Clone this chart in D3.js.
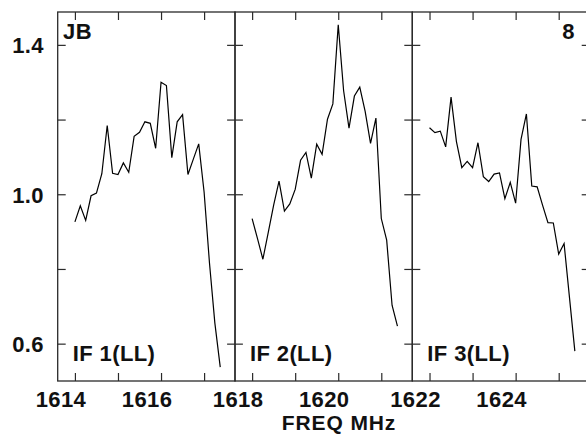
<!DOCTYPE html>
<html><head><meta charset="utf-8">
<script src="https://cdn.jsdelivr.net/npm/d3@7"></script>
<style>
body{margin:0;background:#fff}
text{font-family:"Liberation Sans",Arial,Helvetica,sans-serif;font-weight:bold;fill:#111;letter-spacing:0.4px}
</style>
</head><body><svg id="c" width="586" height="434"></svg>
<script>
// ---- data ----
const panelStarts = [1614, 1618, 1622];
const panelLabels = ["IF 1(LL)", "IF 2(LL)", "IF 3(LL)"];
const channelStep = 0.125;
const if1 = [0.926, 0.969, 0.930, 0.996, 1.003, 1.055, 1.184, 1.056, 1.053, 1.084,
             1.059, 1.155, 1.166, 1.194, 1.190, 1.123, 1.300, 1.291, 1.098, 1.194,
             1.213, 1.053, 1.094, 1.135, 1.006, 0.816, 0.655, 0.537];
const if2 = [0.935, 0.881, 0.826, 0.898, 0.971, 1.035, 0.955, 0.974, 1.013, 1.091,
             1.112, 1.043, 1.134, 1.107, 1.201, 1.242, 1.454, 1.277, 1.177, 1.263,
             1.287, 1.222, 1.136, 1.204, 0.935, 0.877, 0.703, 0.647];
const if3 = [1.178, 1.165, 1.169, 1.127, 1.260, 1.141, 1.071, 1.088, 1.071, 1.138,
             1.047, 1.034, 1.054, 1.057, 0.988, 1.032, 0.976, 1.147, 1.215, 1.022,
             1.020, 0.971, 0.924, 0.923, 0.840, 0.868, 0.724, 0.580];
const yTickValues = [0.6, 0.8, 1.0, 1.2, 1.4];
const yTickLabels = [0.6, 1.0, 1.4];
const xAxisTitle = "FREQ MHz";
const sourceLabel = "JB";
const plotNumber = "8";

const series = [if1, if2, if3];

// ---- layout ----
const svg = d3.select("#c");
const plotTop = 12, plotBottom = 381;
const panelW = 177.4;
const panelLeft = [57.7, 234.9, 412.3];
const y = d3.scaleLinear().domain([0.5, 1.488]).range([plotBottom, plotTop]);
const frameColor = "#2a2a2a";
const fontSize = 22;

panelStarts.forEach((x0, k) => {
  const L = panelLeft[k];
  const x = d3.scaleLinear().domain([x0 - 0.4, x0 + 3.72]).range([L, L + panelW]);
  const g = svg.append("g");
  const xt = d3.range(4).map(i => x0 + i);

  const styleAxis = sel => {
    sel.select(".domain").remove();
    sel.selectAll("line").attr("stroke", frameColor).attr("stroke-width", 1.2);
    sel.selectAll("text").remove();
  };
  g.append("g").attr("transform", `translate(0,${plotBottom})`)
    .call(d3.axisBottom(x).tickValues(xt).tickSize(-8).tickFormat("")).call(styleAxis);
  g.append("g").attr("transform", `translate(0,${plotTop})`)
    .call(d3.axisTop(x).tickValues(xt).tickSize(-8).tickFormat("")).call(styleAxis);
  g.append("g").attr("transform", `translate(${L},0)`)
    .call(d3.axisLeft(y).tickValues(yTickValues).tickSize(-8).tickFormat("")).call(styleAxis);
  g.append("g").attr("transform", `translate(${L + panelW},0)`)
    .call(d3.axisRight(y).tickValues(yTickValues).tickSize(-8).tickFormat("")).call(styleAxis);

  g.append("rect").attr("x", L).attr("y", plotTop).attr("width", panelW).attr("height", plotBottom - plotTop)
    .attr("fill", "none").attr("stroke", frameColor).attr("stroke-width", 1.3);

  const pts = series[k].map((v, i) => [x0 + i * channelStep, v]);
  g.append("path").datum(pts)
    .attr("d", d3.line().x(d => x(d[0])).y(d => y(d[1])))
    .attr("fill", "none").attr("stroke", "#000").attr("stroke-width", 1.2)
    .attr("stroke-linejoin", "miter");

  // x tick labels (even MHz), shifted left as in reference
  xt.filter(v => v % 2 === 0).forEach(v => {
    g.append("text").attr("x", x(v) - 14).attr("y", 406.5)
      .attr("text-anchor", "middle").attr("font-size", fontSize).text(v);
  });

  g.append("text").attr("x", L + 15).attr("y", 360.5)
    .attr("font-size", fontSize).text(panelLabels[k]);
});

yTickLabels.forEach(v => {
  svg.append("text").attr("x", 44).attr("y", y(v) + 8.5)
    .attr("text-anchor", "end").attr("font-size", fontSize).text(d3.format(".1f")(v));
});

svg.append("text").attr("x", 63).attr("y", 39).attr("font-size", fontSize).text(sourceLabel);
svg.append("text").attr("x", 575).attr("y", 39).attr("text-anchor", "end").attr("font-size", fontSize).text(plotNumber);
svg.append("text").attr("x", 339).attr("y", 430).attr("text-anchor", "middle").attr("font-size", 21)
  .style("letter-spacing", "0.9px").text(xAxisTitle);
</script>
</body></html>
